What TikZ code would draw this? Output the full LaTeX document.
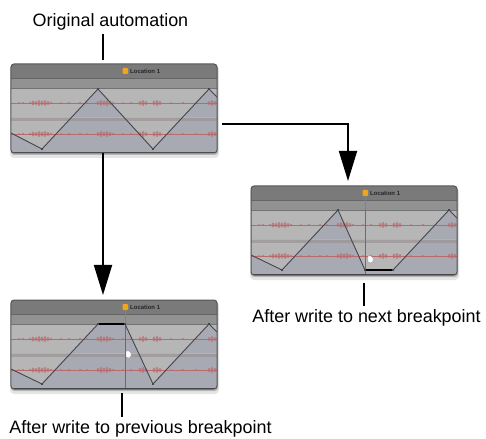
\documentclass[tikz,border=0pt]{standalone}
\usepackage{fontspec}
\setmainfont{Liberation Sans}
\usetikzlibrary{arrows.meta}
\definecolor{hdrA}{HTML}{7A7A7A}
\definecolor{barB}{HTML}{929292}
\definecolor{trk}{HTML}{B6B6B7}
\definecolor{autoc}{HTML}{A8AAB3}
\definecolor{wave}{HTML}{B86A6C}
\definecolor{divc}{HTML}{9A9395}
\definecolor{aline}{HTML}{45464D}
\definecolor{framec}{HTML}{555555}
\definecolor{markc}{HTML}{F2A516}
\tikzset{
  x=1bp, y=-1bp,
  panel/.style={draw=framec, line width=1bp, rounded corners=3bp,
    minimum width=206bp, minimum height=89bp, inner sep=0pt, outer sep=0pt},
  lbl/.style={font=\fontsize{18}{20}\selectfont, inner sep=3bp, anchor=base},
  conn/.style={line width=1.8bp, black},
  arr/.style={conn, -{Triangle[length=30bp,width=18bp]}},
}
\newcommand\wavelane[1]{%
  \draw[wave, line width=.8bp] (0,#1) -- (206,#1);
  \foreach \xx/\hh in {8/1,12/1.2,19/1.5,22/2.5,25/2,28/3,31/2.5,34/3,37/2,40/1.5,
      50/1,58/1.2,69/1.5,76/1,87/2,90/3,93/2.5,96/3,99/2,102/1.5,
      112/1,120/1.2,129/2,132/3,135/2,143/2.5,146/3,149/2,160/1,172/1.2,185/1,198/2,201/3,204/2}
    \fill[wave, opacity=.7] (\xx,#1) ellipse (1.4 and \hh);
}
\newcommand\panelbody[3]{%
  \fill[black, opacity=.10, rounded corners=4bp] (-1,2) rectangle (208,94);
  \fill[black, opacity=.20, rounded corners=3bp] (0,1) rectangle (207,91);
  \begin{scope}
    \clip[rounded corners=3bp] (0,0) rectangle (206,89);
    \fill[hdrA] (0,0) rectangle (206,14);
    \fill[barB] (0,14) rectangle (206,24);
    \draw[black!60, line width=.6bp] (0,14) -- (206,14);
    \fill[trk] (0,24) rectangle (206,89);
    \fill[autoc] #2 -- (206,89) -- (0,89) -- cycle;
    \fill[divc, opacity=.7] (0,53) rectangle (206,57);
    \draw[black!55, line width=.6bp] (0,24) -- (206,24);
    \draw[black!30, line width=.4bp] (0,53) -- (206,53);
    \wavelane{39}
    \wavelane{70}
    #3
    \draw[aline, line width=.9bp, line join=round] #2;
    \draw[black!75, line width=1.6bp] (0,88.5) -- (206,88.5);
  \end{scope}
  \fill[markc, rounded corners=.8bp] (111.5,4) rectangle (117,10);
  \node[anchor=west, inner sep=0pt, font=\fontsize{6}{7}\selectfont\bfseries,
    text=black!85] (loc#1) at (119,7) {Location 1};
}
\newcommand\bpsq[2]{\fill[aline] (#1-1.3,#2-1.3) rectangle (#1+1.3,#2+1.3);}
\newcommand\playhead{%
  \draw[wave, line width=.8bp] (114,10) -- (114,24);
  \draw[aline!80, line width=.8bp] (114,24) -- (114,89);
}
\newcommand\cursorhand[2]{%
  \fill[white, draw=black!50, line width=.3bp]
    (#1-2,#2-3) -- (#1+1,#2-3) -- (#1+3,#2-1) -- (#1+3,#2+2) -- (#1+1,#2+4) -- (#1-2,#2+3) -- cycle;
}
\begin{document}
\begin{tikzpicture}
\useasboundingbox (0,0) rectangle (486,439);
\fill[white] (0,0) rectangle (486,439);

% panel 1: original
\begin{scope}[shift={(11,64)}]
  \panelbody{a}{(0,69) -- (31,85) -- (87,25) -- (142,85) -- (198,25) -- (206,33)}{}
  \bpsq{31}{85}\bpsq{87}{25}\bpsq{142}{85}\bpsq{198}{25}
\end{scope}
\node[panel] (p1) at (114,108.5) {};

% panel 2: next breakpoint
\begin{scope}[shift={(251,186)}]
  \panelbody{b}{(0,69) -- (31,84) -- (87,24) -- (114,84) -- (142,84) -- (198,24) -- (206,32)}{\playhead}
  \draw[black, line width=1.6bp] (114,84) -- (142,84);
  \bpsq{31}{84}\bpsq{87}{24}\bpsq{114}{84}\bpsq{142}{84}\bpsq{198}{24}
  \cursorhand{119}{73}
\end{scope}
\node[panel] (p2) at (354,230.5) {};

% panel 3: previous breakpoint
\begin{scope}[shift={(11,300)}]
  \panelbody{c}{(0,69) -- (31,84) -- (87,24) -- (114,24) -- (142,84) -- (198,24) -- (206,32)}{\playhead}
  \draw[black, line width=1.6bp] (87,24) -- (114,24);
  \bpsq{31}{84}\bpsq{87}{24}\bpsq{114}{24}\bpsq{142}{84}\bpsq{198}{24}
  \cursorhand{117}{54}
\end{scope}
\node[panel] (p3) at (114,344.5) {};

% labels
\node[lbl] (t1) at (110.5,26.7) {Original automation};
\node[lbl] (t2) at (366.5,322) {After write to next breakpoint};
\node[lbl] (t3) at (140.5,433) {After write to previous breakpoint};

% connector columns
\coordinate (ca) at (103,0);
\coordinate (cb) at (348,124);
\coordinate (cc) at (364,0);
\coordinate (cd) at (122,0);

\draw[conn, shorten >=4bp] (ca |- t1.south) -- (ca |- p1.north);
\draw[arr, shorten >=5bp] (ca |- p1.south) -- (ca |- p3.north);
\draw[arr, shorten <=5bp, shorten >=5bp] (p1.east |- cb) -| (cb |- p2.north);
\draw[conn, shorten <=8bp] (cc |- p2.south) -- (cc |- t2.north);
\draw[conn, shorten <=4bp] (cd |- p3.south) -- (cd |- t3.north);
\end{tikzpicture}
\end{document}
